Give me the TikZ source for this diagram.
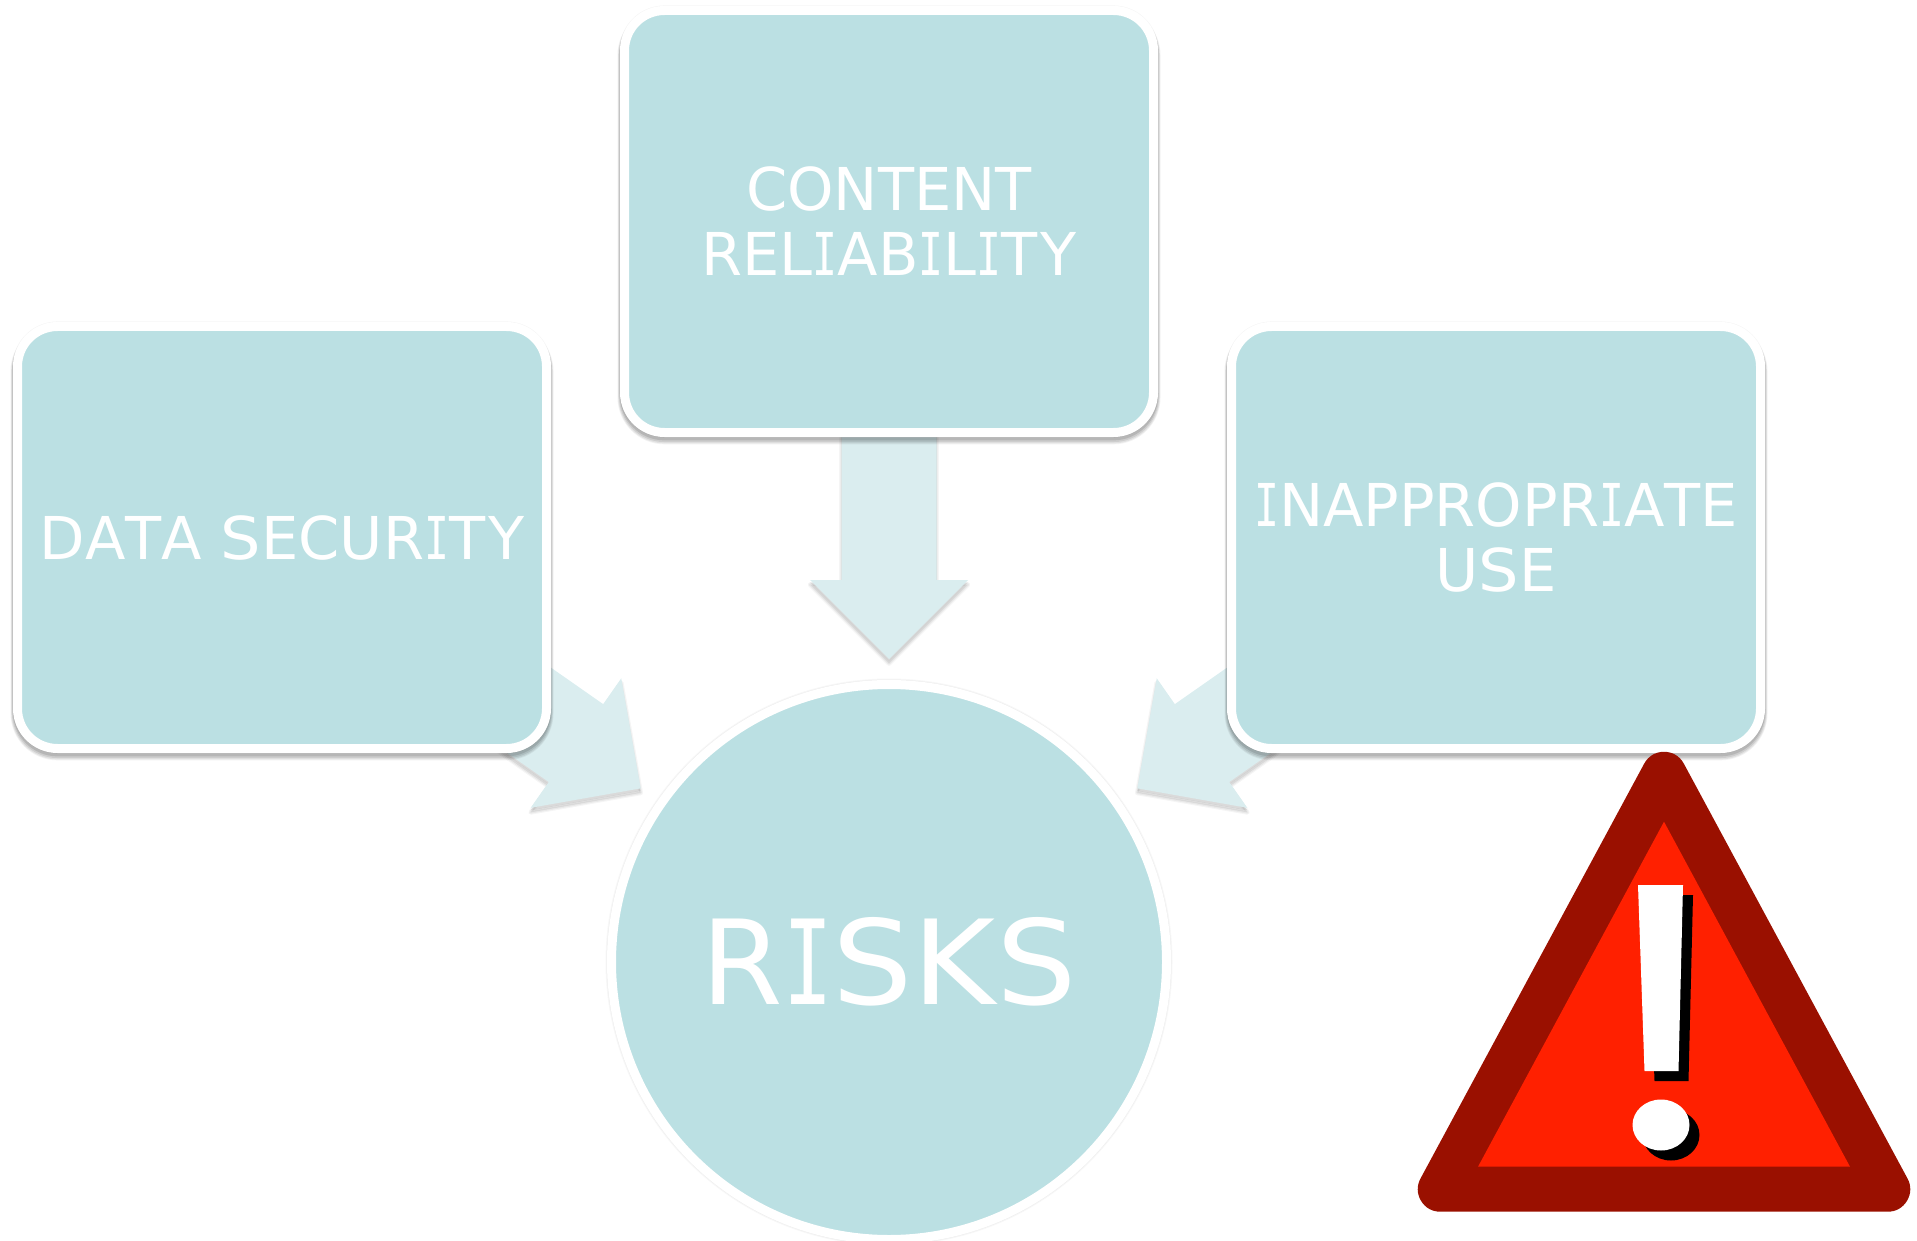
\documentclass[tikz,border=0pt]{standalone}
\usepackage{fontspec}
\setmainfont[Kerning=Off]{DejaVu Sans}
\newfontfamily\barfont[FakeStretch=0.7]{DejaVu Sans Mono}
\newfontfamily\widefont[FakeStretch=1.08,Kerning=Off]{DejaVu Sans}
\newcommand{\barI}{{\barfont I}}
\newcommand{\wideS}{{\widefont S}}
\newcommand{\wideK}{{\widefont K}}
\newcommand{\tyGap}{\kern.05em }
\usetikzlibrary{calc,backgrounds}
\definecolor{boxfill}{HTML}{BBE0E3}
\definecolor{arrowfill}{HTML}{DAEDEF}
\definecolor{warndark}{HTML}{9A1000}
\definecolor{warnred}{HTML}{FF2000}
\tikzset{
  softshadow/.style={
    preaction={draw=black,draw opacity=.04,line width=7.6pt,fill=none},
    preaction={draw=black,draw opacity=.05,line width=10.5pt,transform canvas={yshift=-3.6pt},fill=none},
    preaction={draw=black,draw opacity=.07,line width=9.5pt,transform canvas={yshift=-3.4pt},fill=none},
    preaction={draw=black,draw opacity=.09,line width=8.3pt,transform canvas={yshift=-3pt},fill=none},
    preaction={draw=black,draw opacity=.11,line width=7pt,transform canvas={yshift=-2.4pt},fill=none}},
  faintshadow/.style={
    preaction={draw=black,draw opacity=.03,line width=9pt,fill=none},
    preaction={draw=black,draw opacity=.04,line width=7.5pt,fill=none}},
  arrowshadow/.style={
    preaction={draw=black,draw opacity=.04,line width=3.5pt,line join=round,transform canvas={yshift=-3.4pt},fill=none},
    preaction={draw=black,draw opacity=.05,line width=1.8pt,line join=round,transform canvas={yshift=-3.4pt},fill=none},
    preaction={fill=black,fill opacity=.07,transform canvas={yshift=-3.4pt}},
    preaction={fill=black,fill opacity=.08,transform canvas={yshift=-2pt}}},
  riskbox/.style={rectangle,rounded corners=30pt,draw=white,line width=6.75pt,fill=boxfill,
    minimum width=396.75pt,minimum height=316.5pt,inner sep=0pt,outer sep=0pt,
    text=white,align=center,font=\fontsize{44.3}{48.75}\selectfont,softshadow},
  riskcircle/.style={circle,draw=white,line width=6.75pt,fill=boxfill,
    minimum size=416.25pt,inner sep=0pt,outer sep=0pt,
    text=white,font=\fontsize{88}{90}\selectfont,faintshadow},
  blockarrow/.style={fill=arrowfill,arrowshadow},
  warnframe/.style={fill=warndark,draw=warndark,line width=33.75pt,line join=round},
  warnfill/.style={fill=warnred},
  markwhite/.style={fill=white},
  markblack/.style={fill=black}
}
\newcommand{\blockarrowfrom}[2]{%
  \coordinate (tip) at ($(#2)!227.25pt!(#1)$);
  \coordinate (base) at ($(tip)!59.25pt!(#1)$);
  \coordinate (hl) at ($(base)!59.25pt!90:(tip)$);
  \coordinate (hr) at ($(base)!59.25pt!-90:(tip)$);
  \coordinate (sl) at ($(base)!35.625pt!90:(tip)$);
  \coordinate (sr) at ($(base)!35.625pt!-90:(tip)$);
  \coordinate (bl) at ($(#1)!35.625pt!90:(tip)$);
  \coordinate (br) at ($(#1)!35.625pt!-90:(tip)$);
  \path[blockarrow] (bl) -- (sl) -- (hl) -- (tip) -- (hr) -- (sr) -- (br) -- cycle;
}
\begin{document}
\begin{tikzpicture}[x=.75pt,y=-.75pt]
\useasboundingbox (0,0) rectangle (1917,1241);
\node[riskbox] (content) at (889,221.5) {CONTENT\\REL\barI AB\barI L\barI T\tyGap Y};
\node[riskbox] (data) at (282,537.5) {DATA \wideS ECUR\barI T\tyGap Y};
\node[riskbox] (inappropriate) at (1496,537.5) {\barI NAPPROPR\barI ATE\\U\wideS E};
\node[riskcircle] (risks) at (889,962) {R\barI\wideS\wideK\wideS};
\begin{pgfonlayer}{background}
  \blockarrowfrom{content}{risks}
  \blockarrowfrom{data}{risks}
  \blockarrowfrom{inappropriate}{risks}
\end{pgfonlayer}
% warning sign
\path[warnframe] (1664,774.3) -- (1887.7,1189.2) -- (1440.3,1189.2) -- cycle;
\path[warnfill] (1664,821.7) -- (1850,1166.7) -- (1478,1166.7) -- cycle;
\path[markblack] (1648,895) -- (1693,895) -- (1688.5,1081) -- (1654.5,1081) -- cycle;
\path[markblack] (1671,1135) ellipse [x radius=28.5,y radius=25.5];
\path[markwhite] (1638,885) -- (1683,885) -- (1678.5,1071) -- (1644.5,1071) -- cycle;
\path[markwhite] (1661,1125) ellipse [x radius=28.5,y radius=25.5];
\end{tikzpicture}
\end{document}
